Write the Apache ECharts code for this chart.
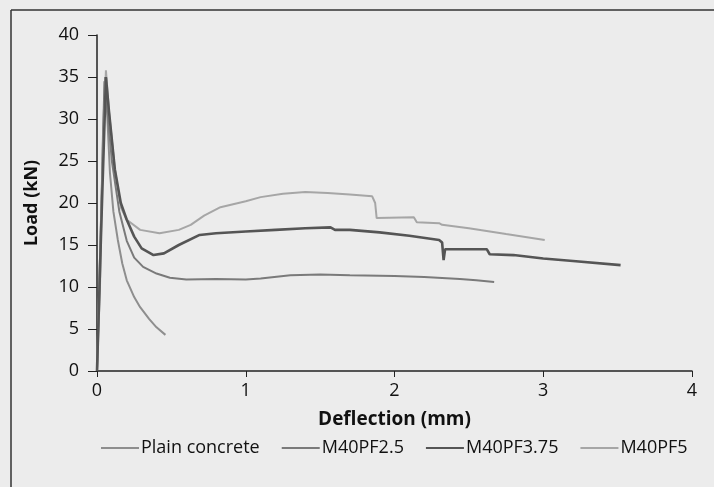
<!DOCTYPE html>
<html>
<head>
<meta charset="utf-8">
<script src="https://cdn.jsdelivr.net/npm/echarts@6/dist/echarts.min.js"></script>
<style>
html,body{margin:0;padding:0;background:#ececec;}
#container{width:714px;height:487px;}
</style>
</head>
<body>
<div id="container"></div>
<script>
var seriesNames = ['Plain concrete', 'M40PF2.5', 'M40PF3.75', 'M40PF5'];
var xTicks = [0, 1, 2, 3, 4];
var yTicks = [0, 5, 10, 15, 20, 25, 30, 35, 40];

// [deflection (mm), load (kN)]
var plainData = [[0,0],[0.02,10],[0.04,28],[0.055,35],[0.07,30],[0.087,23.6],[0.11,19],[0.14,15.6],[0.17,12.8],[0.2,10.8],[0.25,8.8],[0.29,7.6],[0.35,6.2],[0.4,5.2],[0.46,4.3]];
var pf25Data = [[0,0],[0.03,20],[0.05,34.5],[0.07,31],[0.1,25],[0.15,19],[0.2,15.5],[0.25,13.5],[0.31,12.4],[0.4,11.6],[0.49,11.1],[0.6,10.9],[0.8,10.95],[1.0,10.9],[1.1,11.0],[1.3,11.4],[1.5,11.5],[1.7,11.4],[2.0,11.3],[2.2,11.2],[2.44,10.95],[2.55,10.8],[2.67,10.6]];
var pf375Data = [[0,0],[0.03,18],[0.06,35],[0.08,31],[0.12,24],[0.16,20],[0.2,18],[0.25,16],[0.3,14.6],[0.38,13.8],[0.45,14.0],[0.55,15.0],[0.69,16.2],[0.8,16.4],[1.0,16.6],[1.2,16.8],[1.4,17.0],[1.57,17.1],[1.6,16.8],[1.7,16.8],[1.9,16.5],[2.1,16.1],[2.3,15.6],[2.32,15.3],[2.33,13.2],[2.34,14.5],[2.45,14.5],[2.62,14.5],[2.64,13.9],[2.8,13.8],[2.81,13.6],[3.0,13.4],[3.2,13.1],[3.52,12.6]];
var pf5Data = [[0,0],[0.03,20],[0.06,35.8],[0.08,31],[0.12,24],[0.16,19.5],[0.2,18],[0.29,16.8],[0.42,16.4],[0.55,16.8],[0.63,17.4],[0.72,18.5],[0.83,19.5],[1.0,20.2],[1.1,20.7],[1.25,21.1],[1.4,21.3],[1.55,21.2],[1.7,21.0],[1.85,20.8],[1.87,20.0],[1.88,18.2],[2.13,18.3],[2.15,17.7],[2.3,17.6],[2.32,17.4],[2.5,17.0],[2.75,16.3],[3.01,15.6]];

var colors = ['#8e8e8e', '#7a7a7a', '#555555', '#a6a6a6'];
var widths = [2, 2, 2.6, 2];
var allData = [plainData, pf25Data, pf375Data, pf5Data];

var myChart = echarts.init(document.getElementById('container'));
var font = '"Open Sans", sans-serif';

myChart.setOption({
	backgroundColor: '#ececec',
	animation: false,
	textStyle: { fontFamily: font },
	graphic: [
		{ type: 'line', shape: { x1: 11, y1: 10, x2: 714, y2: 10 }, style: { stroke: '#333', lineWidth: 1.5 } },
		{ type: 'line', shape: { x1: 11, y1: 10, x2: 11, y2: 487 }, style: { stroke: '#333', lineWidth: 1.5 } }
	],
	grid: { left: 97, right: 22, top: 35, bottom: 116 },
	legend: {
		bottom: 25,
		left: 96,
		icon: 'rect',
		itemWidth: 38,
		itemHeight: 2,
		itemGap: 22,
		textStyle: { fontSize: 18, color: '#111', fontFamily: font, padding: [0, 0, 0, -3] },
		data: seriesNames
	},
	xAxis: {
		type: 'value',
		min: xTicks[0],
		max: xTicks[xTicks.length - 1],
		interval: 1,
		name: 'Deflection (mm)',
		nameLocation: 'middle',
		nameGap: 39,
		nameTextStyle: { fontSize: 19, fontWeight: 'bold', color: '#111' },
		axisLine: { lineStyle: { color: '#222', width: 1.5 } },
		axisTick: { show: true, length: 6, lineStyle: { color: '#222' } },
		axisLabel: { fontSize: 18, color: '#111', margin: 11 },
		splitLine: { show: false }
	},
	yAxis: {
		type: 'value',
		min: yTicks[0],
		max: yTicks[yTicks.length - 1],
		interval: 5,
		name: 'Load (kN)',
		nameLocation: 'middle',
		nameGap: 56,
		nameTextStyle: { fontSize: 18, fontWeight: 'bold', color: '#111' },
		axisLine: { show: true, lineStyle: { color: '#222', width: 1.5 } },
		axisTick: { show: true, length: 9, lineStyle: { color: '#222' } },
		axisLabel: { fontSize: 18, color: '#111', margin: 18 },
		splitLine: { show: false }
	},
	series: seriesNames.map(function (name, i) {
		return {
			name: name,
			type: 'line',
			data: allData[i],
			symbol: 'none',
			smooth: false,
			color: colors[i],
			lineStyle: { color: colors[i], width: widths[i] },
			z: i === 2 ? 3 : 2
		};
	})
});
</script>
</body>
</html>
